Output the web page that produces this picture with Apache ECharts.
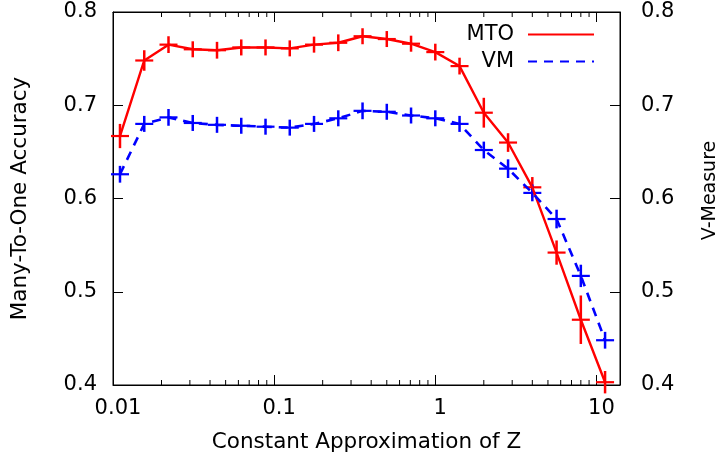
<!DOCTYPE html>
<html>
<head>
<meta charset="utf-8">
<script src="https://cdn.jsdelivr.net/npm/echarts@6/dist/echarts.min.js"></script>
<style>html,body{margin:0;padding:0;background:#fff}#c{width:724px;height:465px}</style>
</head>
<body>
<div id="c"></div>
<script>
const xValues = [0.01105, 0.01563, 0.0221, 0.03125, 0.0442, 0.0625, 0.0884, 0.125, 0.1768, 0.25, 0.3536, 0.5, 0.7071, 1, 1.414, 2, 2.828, 4, 5.657, 8, 11.31];
const mtoValues = [0.667, 0.748, 0.765, 0.760, 0.759, 0.762, 0.762, 0.761, 0.765, 0.767, 0.774, 0.771, 0.766, 0.757, 0.742, 0.692, 0.660, 0.612, 0.542, 0.470, 0.403];
const mtoErrors = [0.013, 0.011, 0.009, 0.008, 0.009, 0.008, 0.008, 0.008, 0.008, 0.009, 0.008, 0.008, 0.008, 0.009, 0.009, 0.016, 0.010, 0.011, 0.013, 0.026, 0.012];
const vmValues = [0.626, 0.680, 0.687, 0.681, 0.679, 0.678, 0.677, 0.676, 0.680, 0.686, 0.694, 0.693, 0.689, 0.686, 0.680, 0.652, 0.632, 0.606, 0.578, 0.517, 0.448];
const vmErrors = [0.009, 0.008, 0.009, 0.008, 0.008, 0.008, 0.008, 0.008, 0.008, 0.008, 0.009, 0.008, 0.008, 0.008, 0.008, 0.009, 0.010, 0.009, 0.010, 0.012, 0.009];
const xTickLabels = ['0.01', '0.1', '1', '10'];
const minorTickValues = [0.02,0.03,0.04,0.05,0.06,0.07,0.08,0.09,0.2,0.3,0.4,0.5,0.6,0.7,0.8,0.9,2,3,4,5,6,7,8,9];

const FONT = 'DejaVu Sans';
const RED = '#ff0000', BLUE = '#0000ff';

function marks(color) {
  return function (params, api) {
    const x = api.value(0), y = api.value(1), e = api.value(2);
    const c = api.coord([x, y]);
    const t = api.coord([x, y + e]);
    const b = api.coord([x, y - e]);
    return {
      type: 'group',
      children: [
        { type: 'line', shape: { x1: c[0] - 9, y1: c[1], x2: c[0] + 9, y2: c[1] }, style: { stroke: color, lineWidth: 2.2 } },
        { type: 'line', shape: { x1: c[0], y1: Math.min(t[1], c[1] - 8), x2: c[0], y2: Math.max(b[1], c[1] + 8) }, style: { stroke: color, lineWidth: 2.5 } }
      ]
    };
  };
}

const chart = echarts.init(document.getElementById('c'));
const xCommon = {
  type: 'log', logBase: 10, min: 0.01, max: 14,
  axisLine: { show: true, lineStyle: { color: '#000', width: 1 } },
  axisTick: { show: true, inside: true, length: 10, lineStyle: { color: '#000' } },
  splitLine: { show: false },
  minorTick: { show: false }
};
const yCommon = {
  type: 'value', min: 0.4, max: 0.8, interval: 0.1,
  axisLine: { show: true, lineStyle: { color: '#000', width: 1 } },
  axisTick: { show: true, inside: true, length: 10, lineStyle: { color: '#000' } },
  splitLine: { show: false },
  nameLocation: 'middle'
};

chart.setOption({
  animation: false,
  backgroundColor: '#fff',
  grid: { left: 113, right: 104, top: 12, bottom: 80, show: true, borderColor: '#000', borderWidth: 1, outerBoundsMode: 'none', containLabel: false },
  legend: {
    data: ['MTO', 'VM'],
    orient: 'vertical', align: 'right',
    right: 129, top: 24, padding: 0,
    itemWidth: 66, itemHeight: 20, itemGap: 6,
    itemStyle: { color: 'rgba(0,0,0,0)', opacity: 0, borderWidth: 0 },
    textStyle: { fontFamily: FONT, fontSize: 21, color: '#000', padding: [0, 9, 0, 0] }
  },
  xAxis: [
    Object.assign({}, xCommon, {
      position: 'bottom',
      name: 'Constant Approximation of Z', nameLocation: 'middle', nameGap: 46,
      nameTextStyle: { fontFamily: FONT, fontSize: 21.5, color: '#000' },
      axisLabel: {
        fontFamily: FONT, fontSize: 21, color: '#000', margin: 13, padding: [0, 0, 0, 10],
        formatter: function (v) {
          const s = String(+v.toPrecision(6));
          return xTickLabels.indexOf(s) >= 0 ? s : '';
        }
      }
    }),
    Object.assign({}, xCommon, { position: 'top', axisLabel: { show: false } })
  ],
  yAxis: [
    Object.assign({}, yCommon, {
      position: 'left', name: 'Many-To-One Accuracy', nameGap: 82,
      nameTextStyle: { fontFamily: FONT, fontSize: 21.5, color: '#000' },
      axisLabel: { fontFamily: FONT, fontSize: 21, color: '#000', margin: 16, formatter: v => v.toFixed(1) }
    }),
    Object.assign({}, yCommon, {
      position: 'right', name: 'V-Measure', nameGap: 81,
      nameTextStyle: { fontFamily: FONT, fontSize: 19, color: '#000', padding: [0, 0, 0, 16] },
      axisLabel: { fontFamily: FONT, fontSize: 21, color: '#000', margin: 21, formatter: v => v.toFixed(1) }
    })
  ],
  series: [
    {
      name: 'MTO', type: 'line', xAxisIndex: 0, yAxisIndex: 0,
      data: xValues.map((x, i) => [x, mtoValues[i]]),
      symbol: 'none', color: RED,
      lineStyle: { color: RED, width: 2.4 }
    },
    {
      name: 'VM', type: 'line', xAxisIndex: 0, yAxisIndex: 1,
      data: xValues.map((x, i) => [x, vmValues[i]]),
      symbol: 'none', color: BLUE,
      lineStyle: { color: BLUE, width: 2.6, type: [9, 7] }
    },
    {
      name: 'MTO marks', type: 'custom', xAxisIndex: 0, yAxisIndex: 0, clip: false,
      data: xValues.map((x, i) => [x, mtoValues[i], mtoErrors[i]]),
      encode: { x: 0, y: 1 }, renderItem: marks(RED), z: 3
    },
    {
      name: 'VM marks', type: 'custom', xAxisIndex: 0, yAxisIndex: 1, clip: false,
      data: xValues.map((x, i) => [x, vmValues[i], vmErrors[i]]),
      encode: { x: 0, y: 1 }, renderItem: marks(BLUE), z: 3
    },
    {
      name: 'minor ticks', type: 'custom', xAxisIndex: 0, yAxisIndex: 0, clip: false,
      data: minorTickValues.map(v => [v]),
      encode: { x: 0 }, silent: true,
      renderItem: function (params, api) {
        const v = api.value(0);
        const b = api.coord([v, 0.4]);
        const t = api.coord([v, 0.8]);
        return {
          type: 'group',
          children: [
            { type: 'line', shape: { x1: b[0], y1: b[1], x2: b[0], y2: b[1] - 5 }, style: { stroke: '#000', lineWidth: 1 } },
            { type: 'line', shape: { x1: t[0], y1: t[1], x2: t[0], y2: t[1] + 5 }, style: { stroke: '#000', lineWidth: 1 } }
          ]
        };
      }
    }
  ]
});
</script>
</body>
</html>
